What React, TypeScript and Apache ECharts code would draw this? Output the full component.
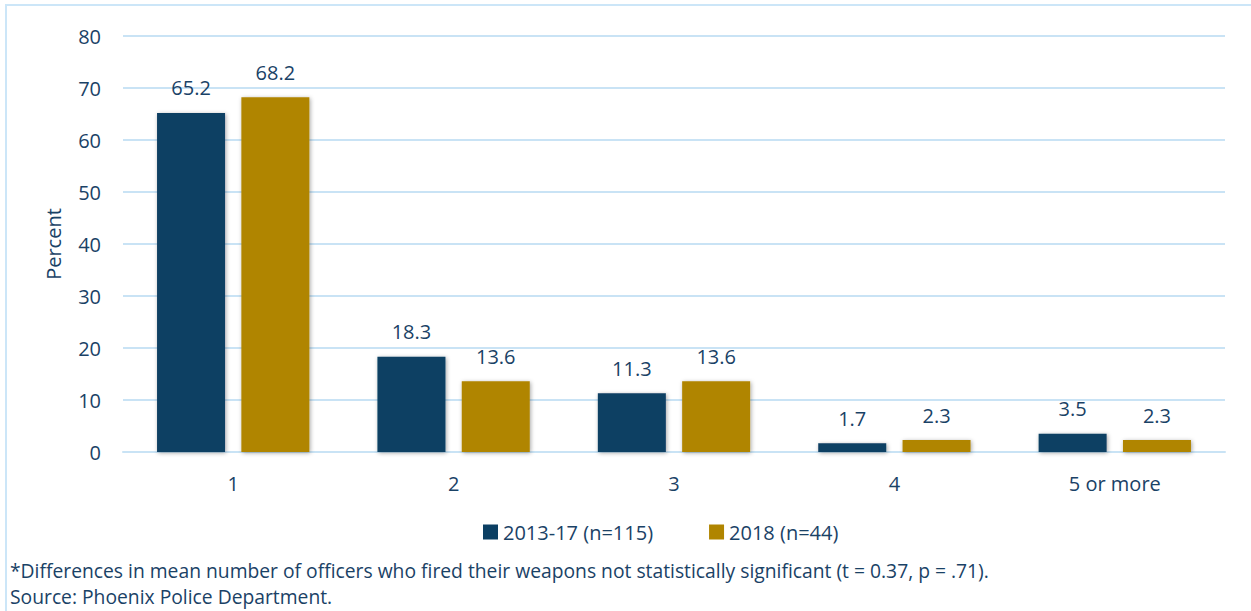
import React, { useEffect, useRef } from "react";
import * as echarts from "echarts";

const categories = ["1", "2", "3", "4", "5 or more"];
const series2013 = [65.2, 18.3, 11.3, 1.7, 3.5];
const series2018 = [68.2, 13.6, 13.6, 2.3, 2.3];
const seriesNames = ["2013-17 (n=115)", "2018 (n=44)"];
const footnote = "*Differences in mean number of officers who fired their weapons not statistically significant (t = 0.37, p = .71).";
const source = "Source: Phoenix Police Department.";

const TEXT = "#1A4266";
const FONT = "'Open Sans', 'Noto Sans', sans-serif";

export default function App() {
  const ref = useRef<HTMLDivElement>(null);
  useEffect(() => {
    const chart = echarts.init(ref.current!, null, { renderer: "svg" });
    const barStyle = (color: string) => ({
      color,
      shadowColor: "rgba(0,0,0,0.35)",
      shadowBlur: 4,
      shadowOffsetX: 1,
      shadowOffsetY: 1,
    });
    const label = {
      show: true,
      position: "top",
      distance: 15,
      color: TEXT,
      fontSize: 20,
      fontFamily: FONT,
      formatter: (p: any) => p.value.toFixed(1),
    };
    chart.setOption({
      animation: false,
      textStyle: { fontFamily: FONT },
      grid: { left: 123, right: 26, top: 36, bottom: 159 },
      legend: {
        top: 517,
        left: 478,
        itemWidth: 15,
        itemHeight: 15,
        itemGap: 56,
        icon: "rect",
        textStyle: { color: TEXT, fontSize: 20, fontFamily: FONT },
        data: seriesNames,
      },
      xAxis: {
        type: "category",
        data: categories,
        axisLine: { lineStyle: { color: "#C9E3F5", width: 2 } },
        axisTick: { show: false },
        axisLabel: { color: TEXT, fontSize: 20, fontFamily: FONT, margin: 21 },
      },
      yAxis: {
        type: "value",
        min: 0,
        max: 80,
        interval: 10,
        name: "Percent",
        nameLocation: "middle",
        nameGap: 60,
        nameTextStyle: { color: TEXT, fontSize: 20, fontFamily: FONT },
        axisLine: { show: false },
        axisTick: { show: false },
        axisLabel: { color: TEXT, fontSize: 20, fontFamily: FONT, margin: 22 },
        splitLine: { lineStyle: { color: "#C9E3F5", width: 2 } },
      },
      series: [
        {
          name: seriesNames[0],
          type: "bar",
          data: series2013,
          barWidth: 68,
          barGap: "24%",
          itemStyle: barStyle("#0B3F63"),
          label,
        },
        {
          name: seriesNames[1],
          type: "bar",
          data: series2018,
          barWidth: 68,
          itemStyle: barStyle("#B08500"),
          label,
        },
      ],
      graphic: [
        {
          type: "rect",
          shape: { x: 6, y: 5, width: 1260, height: 620 },
          style: { fill: "none", stroke: "#CCE6F8", lineWidth: 2 },
          silent: true,
        },
        {
          type: "text",
          left: 10,
          top: 561,
          style: { text: footnote, fill: TEXT, fontSize: 19.3, fontFamily: FONT },
        },
        {
          type: "text",
          left: 10,
          top: 587,
          style: { text: source, fill: TEXT, fontSize: 19.3, fontFamily: FONT },
        },
      ],
    });
    return () => chart.dispose();
  }, []);
  return (
    <div
      ref={ref}
      style={{ position: "fixed", left: 0, top: 0, width: 1251, height: 611, background: "#fff" }}
    />
  );
}
